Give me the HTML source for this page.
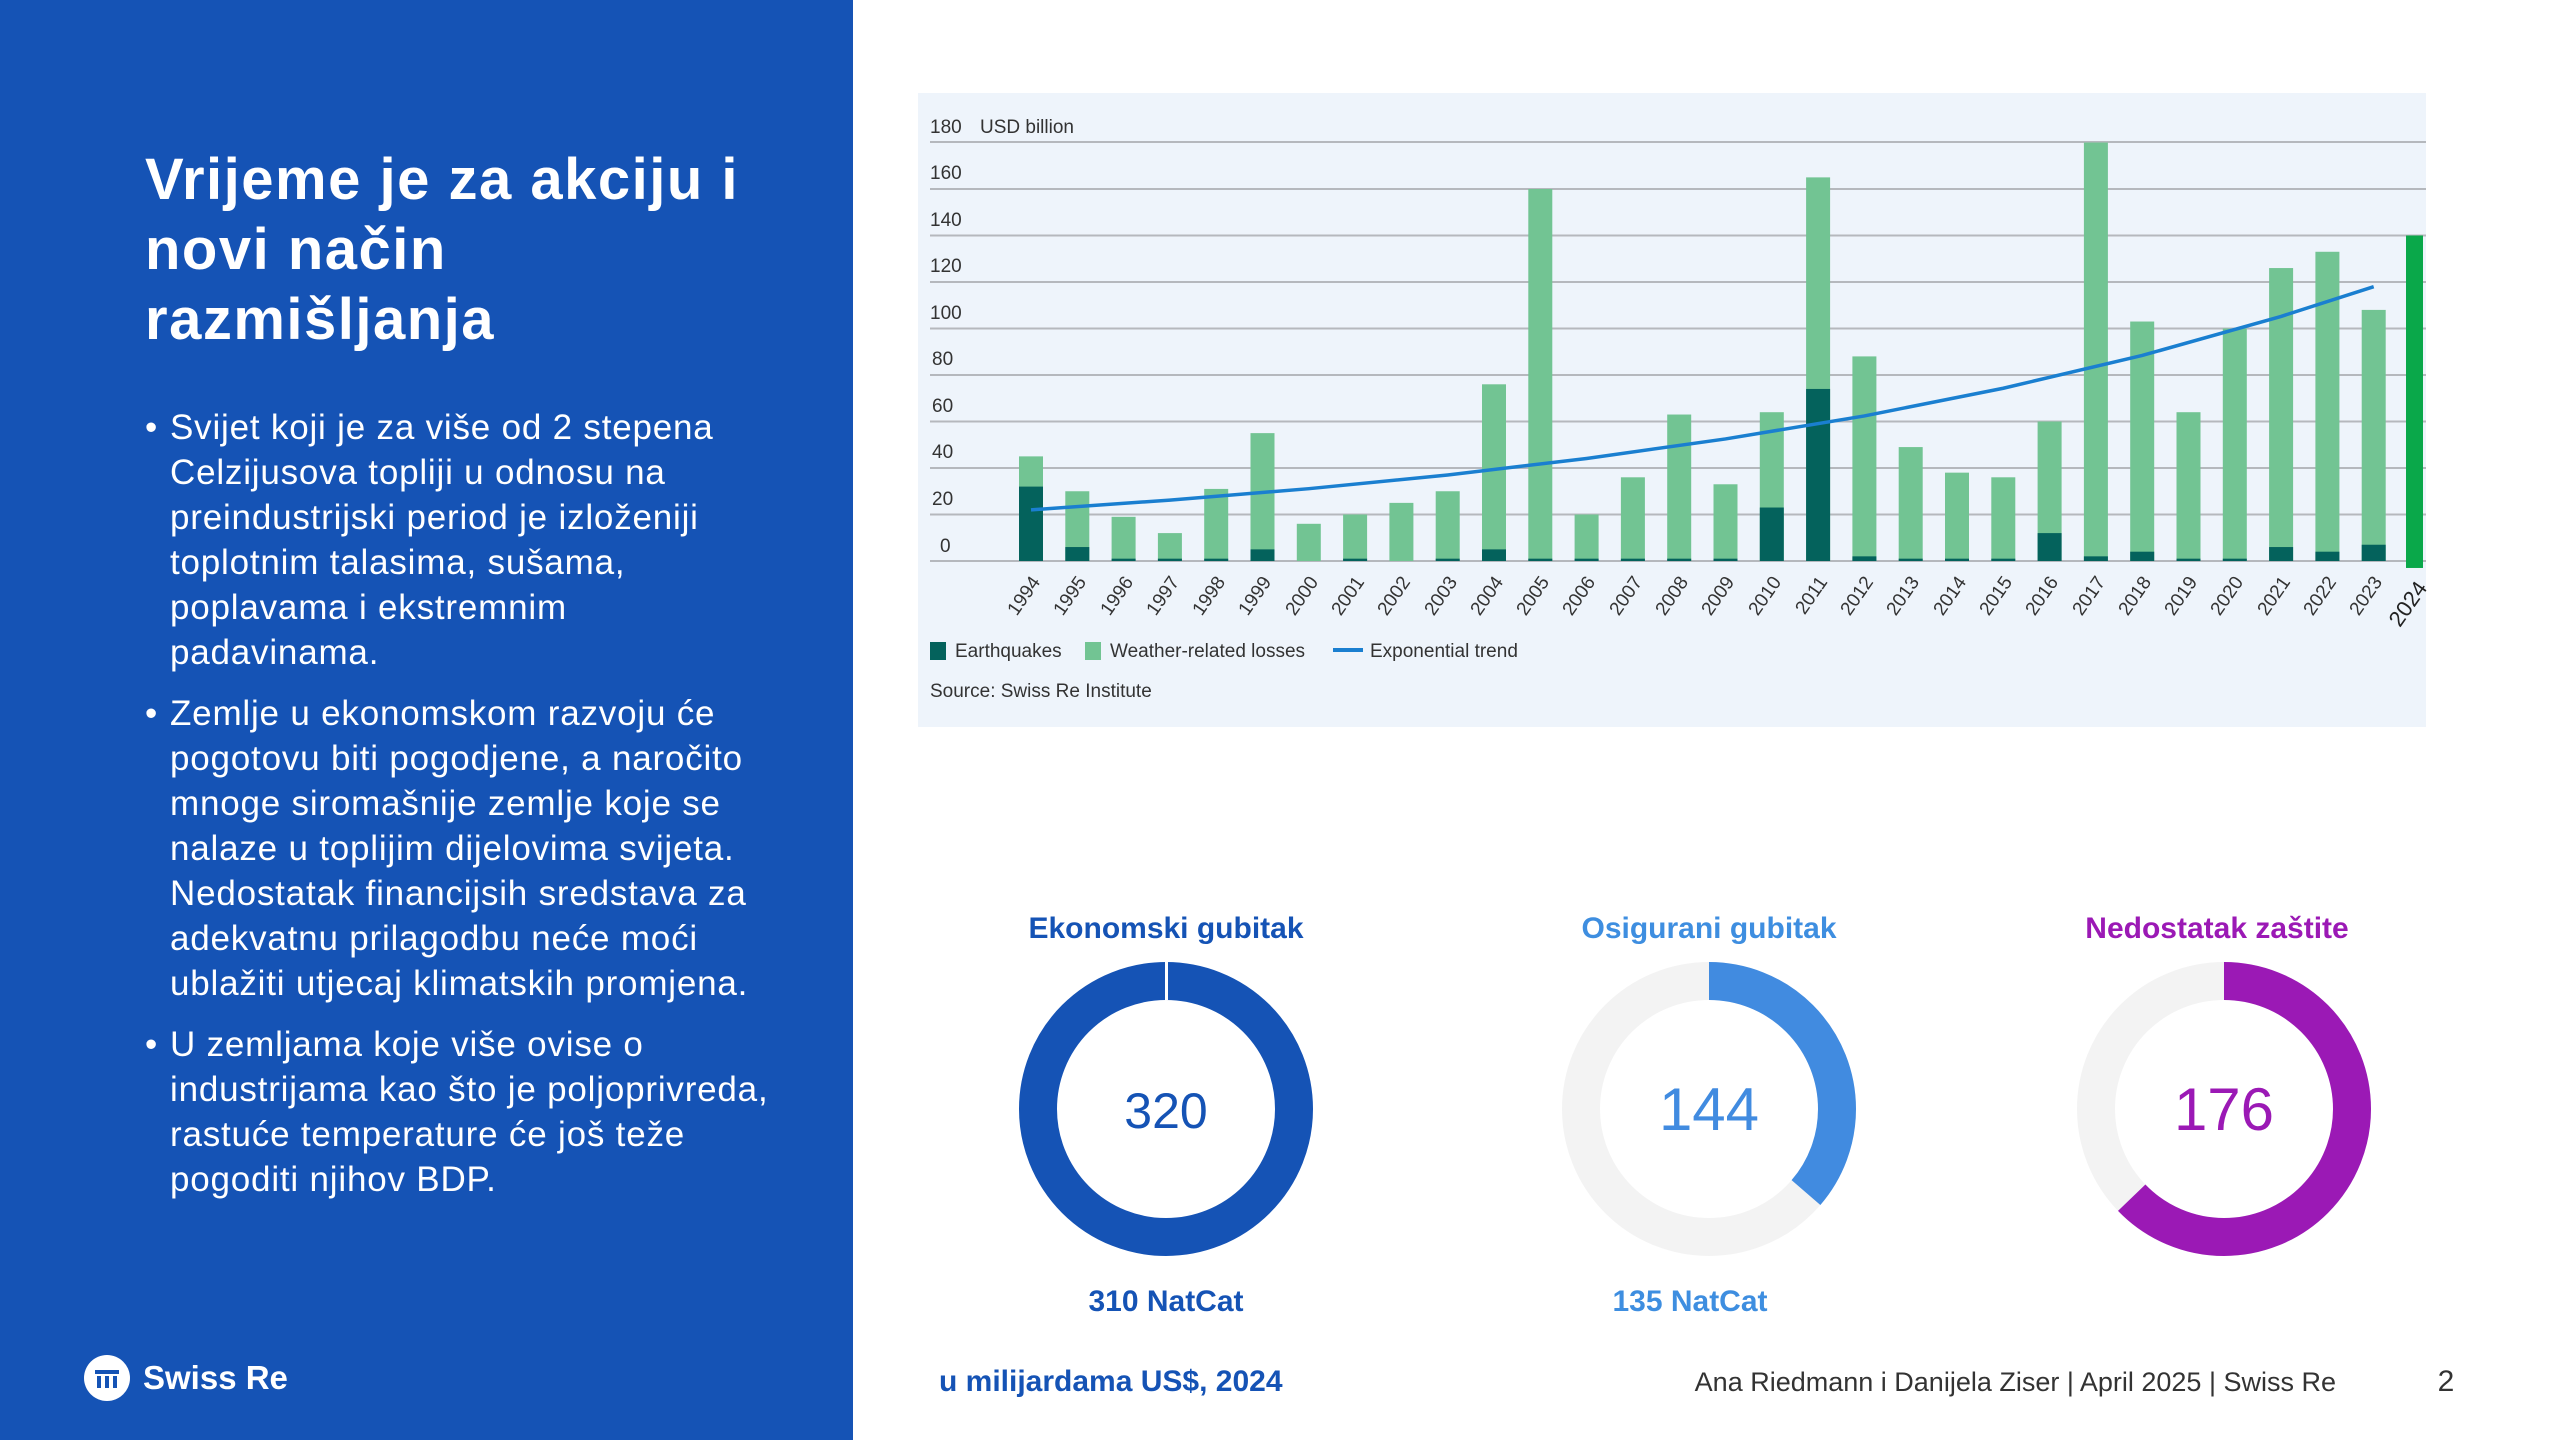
<!DOCTYPE html>
<html><head><meta charset="utf-8"><style>
*{margin:0;padding:0;box-sizing:border-box}
body{width:2560px;height:1440px;overflow:hidden;background:#fff;font-family:"Liberation Sans",sans-serif;position:relative}
#left{position:absolute;left:0;top:0;width:853px;height:1440px;background:#1553b5;color:#fff}
h1{position:absolute;left:145px;top:145px;font-size:58px;line-height:70px;font-weight:bold;white-space:nowrap;letter-spacing:1.5px}
ul{position:absolute;left:145px;top:405px;list-style:none;font-size:35px;line-height:45px;white-space:nowrap;letter-spacing:0.8px}
li{position:relative;padding-left:25px;margin-bottom:16px}
li:before{content:"•";position:absolute;left:0}
.logo{position:absolute;left:84px;top:1355px;font-size:33px;font-weight:bold;display:flex;align-items:center}
.logo span.c{display:inline-block;width:46px;height:46px;border-radius:50%;background:#fff;margin-right:13px;position:relative}
</style></head><body>
<div id="left">
<h1>Vrijeme je za akciju i<br>novi način<br>razmišljanja</h1>
<ul>
<li>Svijet koji je za više od 2 stepena<br>Celzijusova topliji u odnosu na<br>preindustrijski period je izloženiji<br>toplotnim talasima, sušama,<br>poplavama i ekstremnim<br>padavinama.</li>
<li>Zemlje u ekonomskom razvoju će<br>pogotovu biti pogodjene, a naročito<br>mnoge siromašnije zemlje koje se<br>nalaze u toplijim dijelovima svijeta.<br>Nedostatak financijsih sredstava za<br>adekvatnu prilagodbu neće moći<br>ublažiti utjecaj klimatskih promjena.</li>
<li>U zemljama koje više ovise o<br>industrijama kao što je poljoprivreda,<br>rastuće temperature će još teže<br>pogoditi njihov BDP.</li>
</ul>
<div class="logo"><span class="c"><svg width="46" height="46"><g fill="#1553b5"><rect x="11" y="15" width="24" height="4"/><rect x="13" y="21" width="4" height="12"/><rect x="21" y="21" width="4" height="12"/><rect x="29" y="21" width="4" height="12"/></g></svg></span>Swiss Re</div>
</div>
<svg width="2560" height="1440" style="position:absolute;left:0;top:0" font-family="Liberation Sans, sans-serif">
<rect x="918" y="93" width="1508" height="634" fill="#eef4fb"/>
<g stroke="#b5b8bd" stroke-width="2">
<line x1="930" x2="2426" y1="561" y2="561"/><line x1="930" x2="2426" y1="514.5" y2="514.5"/><line x1="930" x2="2426" y1="468" y2="468"/><line x1="930" x2="2426" y1="421.5" y2="421.5"/><line x1="930" x2="2426" y1="375" y2="375"/><line x1="930" x2="2426" y1="328.5" y2="328.5"/><line x1="930" x2="2426" y1="282" y2="282"/><line x1="930" x2="2426" y1="235.5" y2="235.5"/><line x1="930" x2="2426" y1="189" y2="189"/><line x1="930" x2="2426" y1="142" y2="142"/>
</g>
<g font-size="19" fill="#333">
<text x="930" y="133">180</text><text x="980" y="133">USD billion</text>
<text x="930" y="179">160</text><text x="930" y="226">140</text><text x="930" y="272">120</text><text x="930" y="319">100</text><text x="932" y="365">80</text><text x="932" y="412">60</text><text x="932" y="458">40</text><text x="932" y="505">20</text><text x="940" y="552">0</text>
</g>
<g transform="translate(1031,561) scale(1,-2.325)">
<g fill="#72c493">
<rect x="-12" width="24" height="45"/><rect x="34.3" width="24" height="30"/><rect x="80.6" width="24" height="19"/><rect x="126.9" width="24" height="12"/><rect x="173.2" width="24" height="31"/><rect x="219.5" width="24" height="55"/><rect x="265.8" width="24" height="16"/><rect x="312.1" width="24" height="20"/><rect x="358.4" width="24" height="25"/><rect x="404.7" width="24" height="30"/><rect x="451" width="24" height="76"/><rect x="497.3" width="24" height="160"/><rect x="543.6" width="24" height="20"/><rect x="589.9" width="24" height="36"/><rect x="636.2" width="24" height="63"/><rect x="682.5" width="24" height="33"/><rect x="728.8" width="24" height="64"/><rect x="775.1" width="24" height="165"/><rect x="821.4" width="24" height="88"/><rect x="867.7" width="24" height="49"/><rect x="914" width="24" height="38"/><rect x="960.3" width="24" height="36"/><rect x="1006.6" width="24" height="60"/><rect x="1052.9" width="24" height="180"/><rect x="1099.2" width="24" height="103"/><rect x="1145.5" width="24" height="64"/><rect x="1191.8" width="24" height="100"/><rect x="1238.1" width="24" height="126"/><rect x="1284.4" width="24" height="133"/><rect x="1330.7" width="24" height="108"/>
</g>
<g fill="#04625c">
<rect x="-12" width="24" height="32"/><rect x="34.3" width="24" height="6"/><rect x="80.6" width="24" height="1"/><rect x="126.9" width="24" height="1"/><rect x="173.2" width="24" height="1"/><rect x="219.5" width="24" height="5"/><rect x="312.1" width="24" height="1"/><rect x="404.7" width="24" height="1"/><rect x="451" width="24" height="5"/><rect x="497.3" width="24" height="1"/><rect x="543.6" width="24" height="1"/><rect x="589.9" width="24" height="1"/><rect x="636.2" width="24" height="1"/><rect x="682.5" width="24" height="1"/><rect x="728.8" width="24" height="23"/><rect x="775.1" width="24" height="74"/><rect x="821.4" width="24" height="2"/><rect x="867.7" width="24" height="1"/><rect x="914" width="24" height="1"/><rect x="960.3" width="24" height="1"/><rect x="1006.6" width="24" height="12"/><rect x="1052.9" width="24" height="2"/><rect x="1099.2" width="24" height="4"/><rect x="1145.5" width="24" height="1"/><rect x="1191.8" width="24" height="1"/><rect x="1238.1" width="24" height="6"/><rect x="1284.4" width="24" height="4"/><rect x="1330.7" width="24" height="7"/>
</g>
<rect x="1375" y="-3" width="17" height="143" fill="#0aa84a"/>
<path d="M0,22 L138.9,26.2 L277.8,31.1 L416.7,37 L555.6,44.1 L694.5,52.5 L833.4,62.4 L972.3,74.3 L1111.2,88.4 L1250.1,105.2 L1342.7,118" fill="none" stroke="#1a7fd0" stroke-width="3.5" vector-effect="non-scaling-stroke"/>
</g>
<g font-size="19" fill="#333" text-anchor="end">
<text transform="translate(1041,582) rotate(-55)">1994</text><text transform="translate(1087,582) rotate(-55)">1995</text><text transform="translate(1134,582) rotate(-55)">1996</text><text transform="translate(1180,582) rotate(-55)">1997</text><text transform="translate(1226,582) rotate(-55)">1998</text><text transform="translate(1272,582) rotate(-55)">1999</text><text transform="translate(1319,582) rotate(-55)">2000</text><text transform="translate(1365,582) rotate(-55)">2001</text><text transform="translate(1411,582) rotate(-55)">2002</text><text transform="translate(1458,582) rotate(-55)">2003</text><text transform="translate(1504,582) rotate(-55)">2004</text><text transform="translate(1550,582) rotate(-55)">2005</text><text transform="translate(1596,582) rotate(-55)">2006</text><text transform="translate(1643,582) rotate(-55)">2007</text><text transform="translate(1689,582) rotate(-55)">2008</text><text transform="translate(1735,582) rotate(-55)">2009</text><text transform="translate(1782,582) rotate(-55)">2010</text><text transform="translate(1828,582) rotate(-55)">2011</text><text transform="translate(1874,582) rotate(-55)">2012</text><text transform="translate(1920,582) rotate(-55)">2013</text><text transform="translate(1967,582) rotate(-55)">2014</text><text transform="translate(2013,582) rotate(-55)">2015</text><text transform="translate(2059,582) rotate(-55)">2016</text><text transform="translate(2106,582) rotate(-55)">2017</text><text transform="translate(2152,582) rotate(-55)">2018</text><text transform="translate(2198,582) rotate(-55)">2019</text><text transform="translate(2244,582) rotate(-55)">2020</text><text transform="translate(2291,582) rotate(-55)">2021</text><text transform="translate(2337,582) rotate(-55)">2022</text><text transform="translate(2383,582) rotate(-55)">2023</text>
<text transform="translate(2428,588) rotate(-55)" font-size="22" fill="#222">2024</text>
</g>
<g font-size="19" fill="#333">
<rect x="930" y="642" width="16" height="18" fill="#04625c"/><text x="955" y="657">Earthquakes</text>
<rect x="1085" y="642" width="16" height="18" fill="#72c493"/><text x="1110" y="657">Weather-related losses</text>
<rect x="1333" y="648" width="30" height="4" fill="#1a7fd0"/><text x="1370" y="657">Exponential trend</text>
<text x="930" y="697">Source: Swiss Re Institute</text>
</g>
<g font-weight="bold" font-size="30" text-anchor="middle">
<text x="1166" y="938" fill="#1553b5">Ekonomski gubitak</text>
<text x="1709" y="938" fill="#3e8ee0">Osigurani gubitak</text>
<text x="2217" y="938" fill="#9b19b5">Nedostatak zaštite</text>
<text x="1166" y="1311" fill="#1553b5">310 NatCat</text>
<text x="1690" y="1311" fill="#3e8ee0">135 NatCat</text>
</g>
<circle cx="1166" cy="1109" r="128" fill="none" stroke="#1553b5" stroke-width="38"/>
<rect x="1165" y="958" width="3" height="42" fill="#fff"/>
<circle cx="1709" cy="1109" r="128" fill="none" stroke="#f3f3f3" stroke-width="38"/>
<circle cx="1709" cy="1109" r="128" fill="none" stroke="#418be0" stroke-width="38" stroke-dasharray="292 1000" transform="rotate(-90 1709 1109)"/>
<circle cx="2224" cy="1109" r="128" fill="none" stroke="#f3f3f3" stroke-width="38"/>
<circle cx="2224" cy="1109" r="128" fill="none" stroke="#9b19b5" stroke-width="38" stroke-dasharray="505 1000" transform="rotate(-90 2224 1109)"/>
<g text-anchor="middle">
<text x="1166" y="1128" font-size="50" fill="#1553b5">320</text>
<text x="1709" y="1130" font-size="60" fill="#418be0">144</text>
<text x="2224" y="1130" font-size="60" fill="#9b19b5">176</text>
</g>
<text x="939" y="1391" font-size="30" font-weight="bold" fill="#1553b5">u milijardama US$, 2024</text>
<text x="2336" y="1391" font-size="27" fill="#333" text-anchor="end">Ana Riedmann i Danijela Ziser | April 2025 | Swiss Re</text>
<text x="2446" y="1391" font-size="30" fill="#333" text-anchor="middle">2</text>
</svg>
</body></html>
